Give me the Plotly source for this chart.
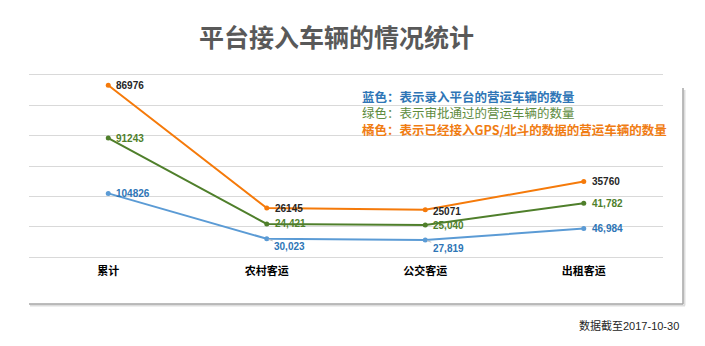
import numpy as np
import plotly.graph_objects as go

categories = ["累计", "农村客运", "公交客运", "出租客运"]
blue_vals = [104826, 30023, 27819, 46984]
green_vals = [91243, 24421, 25040, 41782]
orange_vals = [86976, 26145, 25071, 35760]

blue_labels = ["104826", "30,023", "27,819", "46,984"]
green_labels = ["91243", "24,421", "25,040", "41,782"]
orange_labels = ["86976", "26145", "25071", "35760"]

title_text = "平台接入车辆的情况统计"
legend_lines = [
    ("蓝色：表示录入平台的营运车辆的数量", "#2E75B6", True),
    ("绿色：表示审批通过的营运车辆的数量", "#5E8C3E", False),
    ("橘色：表示已经接入GPS/北斗的数据的营运车辆的数量", "#F07C12", True),
]
footnote = "数据截至2017-10-30"

W, H = 705, 346
L, R, T, B = 29, 663, 75, 257
def px(x):
    return (x - L) / (R - L)
def py(y):
    return (B - y) / (B - T)

# stacked line chart
cum_blue = np.array(blue_vals)
cum_green = cum_blue + np.array(green_vals)
cum_orange = cum_green + np.array(orange_vals)

c_blue = "#5B9BD5"
c_green = "#4F7F2B"
c_orange = "#F57A0A"

fig = go.Figure()
for ys, col in [(cum_blue, c_blue), (cum_green, c_green), (cum_orange, c_orange)]:
    fig.add_trace(go.Scatter(
        x=categories, y=ys, mode="lines+markers",
        line=dict(color=col, width=2),
        marker=dict(color=col, size=5),
        hoverinfo="skip", showlegend=False,
    ))

num_font = "Liberation Sans, Arial, Noto Sans CJK SC"
cjk_font = "Noto Sans CJK SC, Noto Sans, sans-serif"

annotations = []
series_info = [
    (cum_orange, orange_labels, "#262626", [0, 0, -2, 0]),
    (cum_green, green_labels, "#4F7F2B", [0, 0, -1, 0]),
    (cum_blue, blue_labels, "#2E75B6", [0, None, None, 0]),
]
for ys, labs, col, dys in series_info:
    for i, cat in enumerate(categories):
        if dys[i] is None:
            annotations.append(dict(
                x=cat, y=float(ys[i]), xref="x", yref="y", text="<b>" + labs[i] + "</b>",
                showarrow=True, arrowhead=0, arrowwidth=1, arrowcolor="#BFBFBF",
                ax=23, ay=8, standoff=2,
                font=dict(family=num_font, size=10, color=col),
            ))
        else:
            annotations.append(dict(
                x=cat, y=float(ys[i]), xref="x", yref="y", text="<b>" + labs[i] + "</b>",
                showarrow=False, xanchor="left", yanchor="middle",
                xshift=6, yshift=dys[i],
                font=dict(family=num_font, size=10, color=col),
            ))

annotations.append(dict(
    x=px(336), y=py(36), xref="paper", yref="paper", text="<b>" + title_text + "</b>",
    showarrow=False, xanchor="center", yanchor="middle",
    font=dict(family=cjk_font, size=25, color="#595959"),
))
legend_html = "<br>".join(
    '<span style="color:%s">%s</span>' % (col, ("<b>" + txt + "</b>") if bold else txt)
    for txt, col, bold in legend_lines
)
annotations.append(dict(
    x=px(360), y=py(113), xref="paper", yref="paper",
    text=legend_html, align="left",
    showarrow=False, xanchor="left", yanchor="middle",
    font=dict(family=cjk_font, size=12.5, color="#2E75B6"),
))
annotations.append(dict(
    x=px(681), y=py(325), xref="paper", yref="paper", text=footnote,
    showarrow=False, xanchor="right", yanchor="middle",
    font=dict(family=num_font, size=11, color="#262626"),
))

shapes = [
    # shadow
    dict(type="line", xref="paper", yref="paper", x0=px(30), x1=px(685), y0=py(305.5), y1=py(305.5),
         line=dict(color="#DDDDDD", width=2)),
    dict(type="line", xref="paper", yref="paper", x0=px(684.5), x1=px(684.5), y0=py(90), y1=py(305.5),
         line=dict(color="#DDDDDD", width=2)),
    # frame
    dict(type="line", xref="paper", yref="paper", x0=px(29), x1=px(683), y0=py(304), y1=py(304),
         line=dict(color="#A6A6A6", width=1.5)),
    dict(type="line", xref="paper", yref="paper", x0=px(683), x1=px(683), y0=py(88), y1=py(304),
         line=dict(color="#A6A6A6", width=1.5)),
]

fig.update_layout(
    width=W, height=H,
    margin=dict(l=L, r=W - R, t=T, b=H - B),
    paper_bgcolor="white", plot_bgcolor="white",
    showlegend=False,
    annotations=annotations,
    shapes=shapes,
    xaxis=dict(
        type="category", range=[-0.5, 3.5], showgrid=False, zeroline=False,
        showline=True, mirror=True, linecolor="#D9D9D9", linewidth=1, ticks="",
        tickfont=dict(family=cjk_font, size=11, color="#000000"),
        ticklabelstandoff=4,
    ),
    yaxis=dict(
        range=[0, 300000], dtick=50000, showgrid=True, gridcolor="#D9D9D9",
        gridwidth=1, zeroline=False, showticklabels=False, showline=False,
    ),
)
fig.update_xaxes(tickvals=categories, ticktext=["<b>" + c + "</b>" for c in categories])

fig.write_html("out.html")
